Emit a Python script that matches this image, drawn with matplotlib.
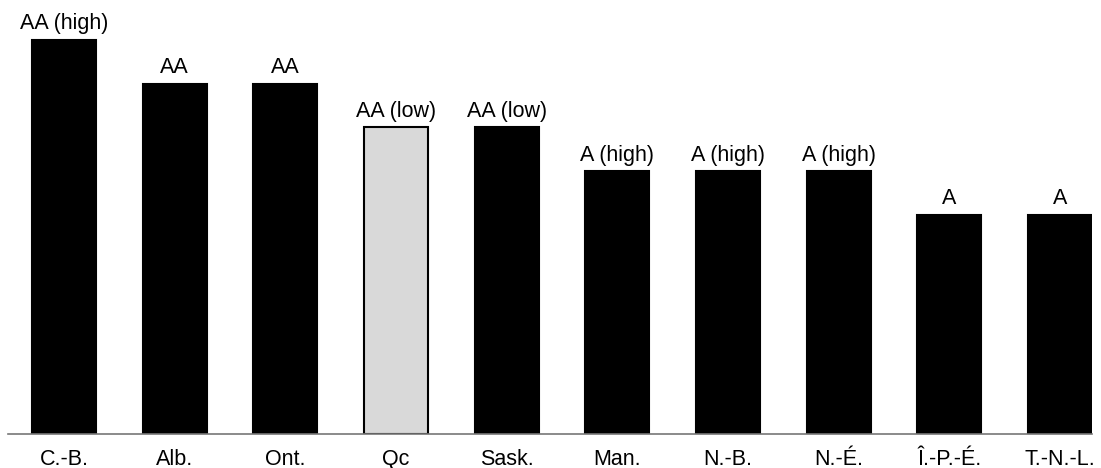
import matplotlib
matplotlib.use("Agg")
import matplotlib.pyplot as plt

provinces = ["C.-B.", "Alb.", "Ont.", "Qc", "Sask.", "Man.", "N.-B.", "N.-É.", "Î.-P.-É.", "T.-N.-L."]
scores = [9, 8, 8, 7, 7, 6, 6, 6, 5, 5]
ratings = ["AA (high)", "AA", "AA", "AA (low)", "AA (low)", "A (high)", "A (high)", "A (high)", "A", "A"]
highlight = "Qc"

plt.rcParams['font.family'] = ['Liberation Sans', 'DejaVu Sans']

W, H = 1101, 468
fig = plt.figure(figsize=(W / 100, H / 100), dpi=100)
ax = fig.add_axes([8 / W, (H - 434) / H, (1092 - 8) / W, 434 / H])

x = list(range(len(provinces)))
colors = ["#d9d9d9" if p == highlight else "black" for p in provinces]
bars = ax.bar(x, scores, width=0.578, color=colors, edgecolor="black", linewidth=1.5)
ax.bar_label(bars, labels=ratings, padding=4, fontsize=15.5)

ax.set_xlim(-0.506, 9.289)
ax.set_ylim(0, 9.91)
ax.set_xticks(x)
ax.set_xticklabels(provinces, fontsize=15.5)
ax.tick_params(axis='x', length=0, pad=10.5)
ax.set_yticks([])
for s in ["top", "right", "left"]:
    ax.spines[s].set_visible(False)
ax.spines["bottom"].set_color("#777777")
ax.spines["bottom"].set_linewidth(1.2)

fig.savefig("out.png", dpi=100)
